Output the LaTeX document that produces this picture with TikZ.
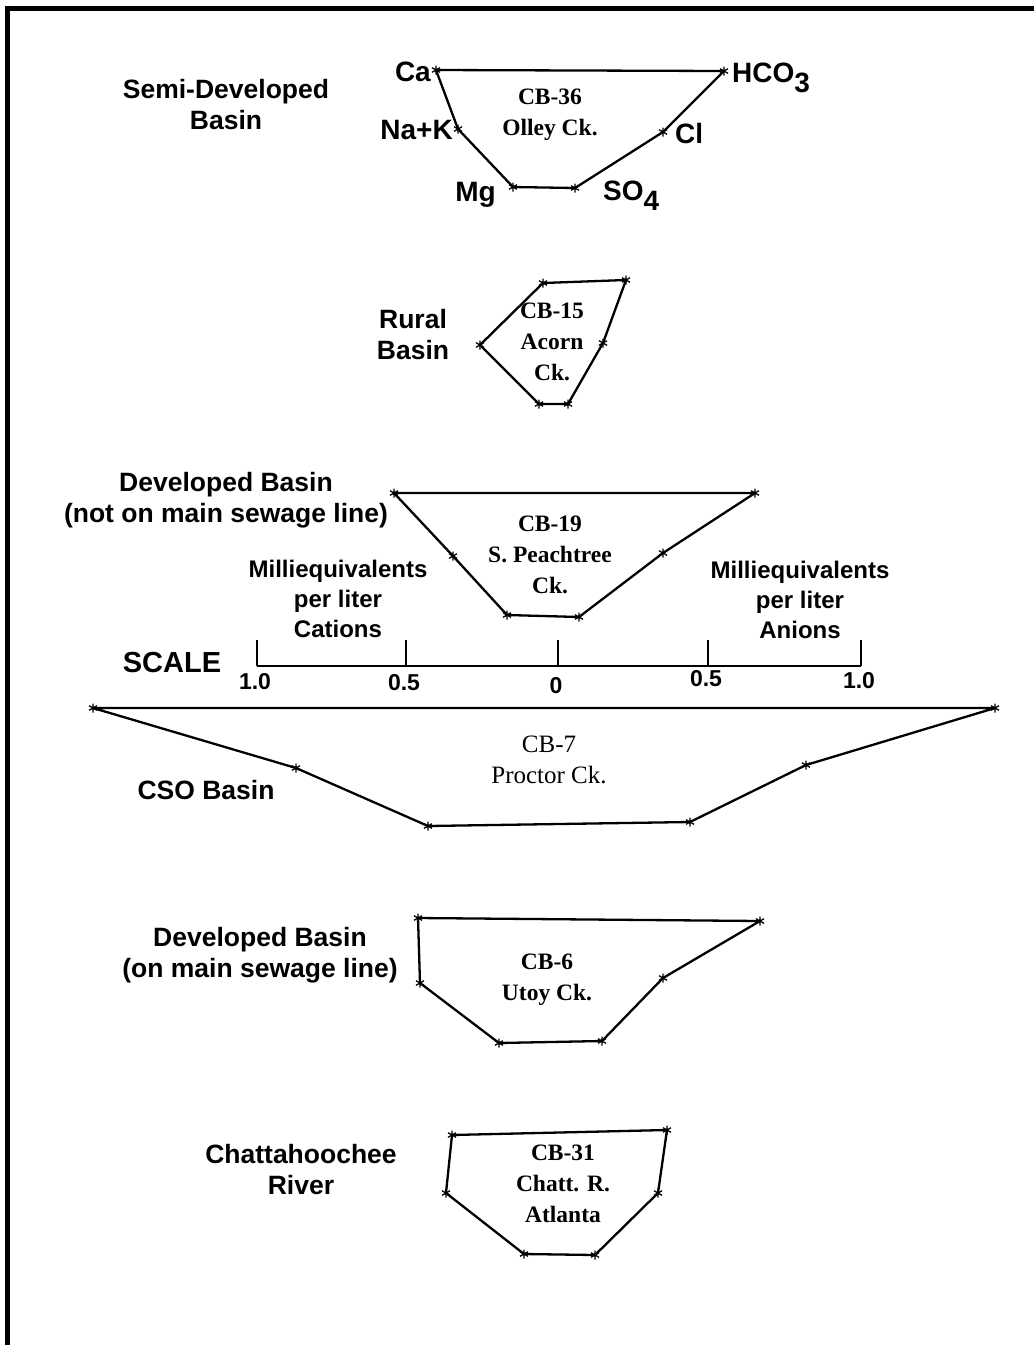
\documentclass[tikz,border=0pt]{standalone}
\usepackage{fontspec}
\setmainfont{Liberation Serif}
\setsansfont{Liberation Sans}

\tikzset{
  poly/.style={line width=2.3pt, line join=round},
  starmark/.style={line width=1.3pt},
  basin/.style={font=\sffamily\bfseries\fontsize{26.5}{31}\selectfont, align=center, inner sep=0pt},
  ion/.style={font=\sffamily\bfseries\fontsize{28}{31}\selectfont, inner sep=0pt},
  site/.style={font=\rmfamily\bfseries\fontsize{23.5}{31}\selectfont, align=center, inner sep=0pt},
  unitlab/.style={font=\sffamily\bfseries\fontsize{24}{30}\selectfont, align=center, inner sep=0pt},
}
% small asterisk at a vertex
\newcommand\vstar[1]{\draw[starmark] (#1) +(0,-4.5) -- +(0,4.5) (#1) +(-4,-2.3) -- +(4,2.3) (#1) +(-4,2.3) -- +(4,-2.3);}
\newcommand\subdown[1]{\raisebox{-10pt}{#1}}

\begin{document}
\begin{tikzpicture}[x=1pt, y=-1pt]
\useasboundingbox (0,0) rectangle (1034,1345);
\draw[line width=5pt, line join=miter] (1034,8.5) -- (7.5,8.5) -- (7.5,1345);
%
% CB-36 semi-developed
\node[basin] (lab36) at (226,105) {Semi-Developed\\Basin};
\coordinate (ca36) at (436,70);
\coordinate (nak36) at (458,129);
\coordinate (mg36) at (513,187);
\coordinate (so36) at (575,188);
\coordinate (cl36) at (663,132);
\coordinate (hco36) at (724,71);
\draw[poly] (ca36) -- (nak36) -- (mg36) -- (so36) -- (cl36) -- (hco36) -- cycle;
\foreach \p in {ca36,nak36,mg36,so36,cl36,hco36} \vstar{\p};
\node[ion, anchor=base east] (tca) at (431,81) {Ca};
\node[ion, anchor=base east] (tnak) at (453,139) {Na+K};
\node[ion, anchor=base east] (tmg) at (496,201) {Mg};
\node[ion, anchor=base west] (tso) at (603,200) {SO\subdown{4}};
\node[ion, anchor=base west] (tcl) at (675,143) {Cl};
\node[ion, anchor=base west] (thco) at (732,82) {HCO\subdown{3}};
\node[site] (cb36) at (550,115) {CB-36\\Olley Ck.};
%
% CB-15 rural
\node[basin] (lab15) at (413,335) {Rural\\Basin};
\coordinate (a15) at (543,283);
\coordinate (b15) at (480,345);
\coordinate (c15) at (539,404);
\coordinate (d15) at (568,404);
\coordinate (e15) at (603,343);
\coordinate (f15) at (626,280);
\draw[poly] (a15) -- (b15) -- (c15) -- (d15) -- (e15) -- (f15) -- cycle;
\foreach \p in {a15,b15,c15,d15,e15,f15} \vstar{\p};
\node[site] (cb15) at (552,342) {CB-15\\Acorn\\Ck.};
%
% CB-19 developed, not on sewage line
\node[basin] (lab19) at (226,500) {Developed Basin\\(not on main sewage line)};
\coordinate (a19) at (394,493);
\coordinate (b19) at (453,556);
\coordinate (c19) at (507,615);
\coordinate (d19) at (579,617);
\coordinate (e19) at (663,553);
\coordinate (f19) at (755,493);
\draw[poly] (a19) -- (b19) -- (c19) -- (d19) -- (e19) -- (f19) -- cycle;
\foreach \p in {a19,b19,c19,d19,e19,f19} \vstar{\p};
\node[site] (cb19) at (550,555) {CB-19\\S. Peachtree\\Ck.};
%
% scale bar
\node[unitlab] (cat) at (338,599) {Milliequivalents\\per liter\\Cations};
\node[unitlab] (ani) at (800,600) {Milliequivalents\\per liter\\Anions};
\node[font=\sffamily\bfseries\fontsize{29}{30}\selectfont, inner sep=0pt] (scl) at (172,663) {SCALE};
\draw[line width=2.4pt] (257,666) -- (861,666);
\foreach \x/\t/\y in {257/1.0/682, 406/0.5/683, 558/0/686, 708/0.5/679, 861/1.0/681}{
  \draw[line width=2pt] (\x,640) -- (\x,666);
  \node[font=\sffamily\bfseries\fontsize{23}{24}\selectfont, inner sep=0pt] at (\x-2,\y) {\t};
}
%
% CB-7 CSO
\node[basin] (lab7) at (206,790) {CSO Basin};
\coordinate (a7) at (93,708);
\coordinate (b7) at (296,768);
\coordinate (c7) at (428,826);
\coordinate (d7) at (690,822);
\coordinate (e7) at (806,765);
\coordinate (f7) at (995,708);
\draw[poly] (a7) -- (b7) -- (c7) -- (d7) -- (e7) -- (f7) -- cycle;
\foreach \p in {a7,b7,c7,d7,e7,f7} \vstar{\p};
\node[site, font=\rmfamily\fontsize{25}{31}\selectfont] (cb7) at (549,760) {CB-7\\Proctor Ck.};
%
% CB-6 developed, on sewage line
\node[basin] (lab6) at (260,955) {Developed Basin\\(on main sewage line)};
\coordinate (a6) at (418,918);
\coordinate (b6) at (420,983);
\coordinate (c6) at (499,1043);
\coordinate (d6) at (602,1041);
\coordinate (e6) at (663,978);
\coordinate (f6) at (760,921);
\draw[poly] (a6) -- (b6) -- (c6) -- (d6) -- (e6) -- (f6) -- cycle;
\foreach \p in {a6,b6,c6,d6,e6,f6} \vstar{\p};
\node[site] (cb6) at (547,980) {CB-6\\Utoy Ck.};
%
% CB-31 river
\node[basin] (lab31) at (301,1170) {Chattahoochee\\River};
\coordinate (a31) at (452,1135);
\coordinate (b31) at (446,1193);
\coordinate (c31) at (524,1254);
\coordinate (d31) at (595,1255);
\coordinate (e31) at (658,1193);
\coordinate (f31) at (667,1130);
\draw[poly] (a31) -- (b31) -- (c31) -- (d31) -- (e31) -- (f31) -- cycle;
\foreach \p in {a31,b31,c31,d31,e31,f31} \vstar{\p};
\node[site] (cb31) at (563,1184) {CB-31\\Chatt. R.\\Atlanta};
\end{tikzpicture}
\end{document}
